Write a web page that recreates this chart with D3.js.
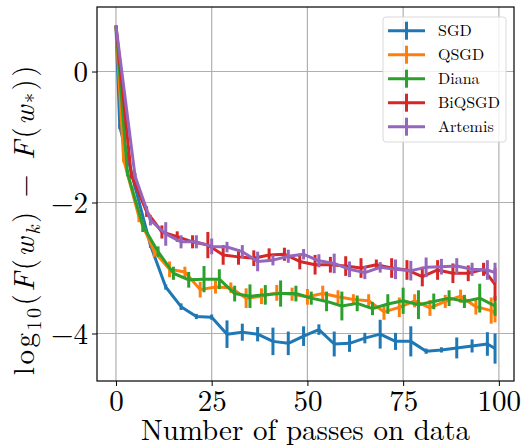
<!DOCTYPE html>
<html><head><meta charset="utf-8">
<script src="https://cdn.jsdelivr.net/npm/d3@7"></script>
<style>body{margin:0;background:#fff}</style>
</head><body>
<svg id="c" width="523" height="447"></svg>
<script>
const seriesNames = ["SGD","QSGD","Diana","BiQSGD","Artemis"];
const seriesColors = ["#1f77b4","#ff7f0e","#2ca02c","#d62728","#9467bd"];
const xTicks = [0,25,50,75,100];
const yTicks = [0,-2,-4];

const sgdX = [0,1,5,9,13,17,21,25,29,33,37,41,45,49,53,57,61,65,69,73,77,81,85,89,93,97,99];
const sgdY = [0.70,-0.84,-1.76,-2.65,-3.29,-3.59,-3.74,-3.75,-4.01,-3.98,-4.01,-4.12,-4.15,-4.04,-3.94,-4.16,-4.15,-4.07,-4.01,-4.12,-4.12,-4.27,-4.25,-4.22,-4.19,-4.16,-4.23];
const sgdE = [0,0.02,0.03,0.03,0.03,0.05,0.03,0.03,0.21,0.13,0.11,0.21,0.18,0.15,0.08,0.19,0.13,0.08,0.22,0.13,0.23,0.03,0.04,0.16,0.10,0.18,0.23];

const qsgdX = [0,2,6,10,14,18,22,26,30,34,38,42,46,50,54,58,62,66,70,74,78,82,86,90,94,98,99];
const qsgdY = [0.70,-1.34,-2.22,-2.75,-3.02,-3.06,-3.33,-3.29,-3.30,-3.46,-3.43,-3.38,-3.40,-3.44,-3.39,-3.44,-3.48,-3.50,-3.67,-3.60,-3.50,-3.61,-3.51,-3.43,-3.59,-3.65,-3.68];
const qsgdE = [0,0.05,0.08,0.08,0.12,0.08,0.12,0.10,0.08,0.15,0.12,0.12,0.10,0.12,0.12,0.10,0.08,0.10,0.12,0.15,0.10,0.12,0.10,0.10,0.12,0.20,0.15];

const dianaX = [0,3,7,11,15,19,23,27,31,35,39,43,47,51,55,59,63,67,71,75,79,83,87,91,95,99];
const dianaY = [0.70,-1.55,-2.35,-2.75,-3.08,-3.18,-3.17,-3.17,-3.39,-3.43,-3.41,-3.39,-3.39,-3.46,-3.51,-3.58,-3.54,-3.62,-3.55,-3.50,-3.56,-3.51,-3.46,-3.51,-3.46,-3.58];
const dianaE = [0,0.05,0.10,0.08,0.10,0.12,0.20,0.15,0.12,0.18,0.15,0.20,0.12,0.10,0.15,0.22,0.12,0.10,0.15,0.20,0.22,0.12,0.12,0.10,0.22,0.15];

const biqX = [0,4,8,12,16,20,24,28,32,36,40,44,48,52,56,60,64,68,72,76,80,84,88,92,96,99];
const biqY = [0.70,-1.58,-2.14,-2.45,-2.52,-2.60,-2.65,-2.80,-2.83,-2.85,-2.80,-2.79,-2.90,-2.95,-2.95,-2.97,-3.00,-2.95,-3.00,-3.03,-3.13,-3.03,-3.08,-3.08,-3.02,-3.25];
const biqE = [0,0.05,0.08,0.10,0.08,0.10,0.20,0.15,0.12,0.12,0.10,0.10,0.12,0.15,0.12,0.15,0.15,0.08,0.15,0.15,0.15,0.15,0.15,0.12,0.10,0.25];

const artX = [0,5,9,13,17,21,25,29,33,37,41,45,49,53,57,61,65,69,73,77,81,85,89,93,97,99];
const artY = [0.70,-1.60,-2.27,-2.48,-2.60,-2.60,-2.67,-2.68,-2.75,-2.90,-2.88,-2.82,-2.79,-2.89,-2.93,-3.02,-3.07,-2.99,-3.02,-3.04,-2.99,-2.98,-2.97,-3.02,-3.03,-3.07];
const artE = [0,0.05,0.08,0.18,0.10,0.10,0.12,0.08,0.10,0.15,0.08,0.10,0.08,0.10,0.15,0.12,0.10,0.08,0.15,0.15,0.15,0.12,0.12,0.10,0.15,0.15];

const allX = [sgdX,qsgdX,dianaX,biqX,artX];
const allY = [sgdY,qsgdY,dianaY,biqY,artY];
const allE = [sgdE,qsgdE,dianaE,biqE,artE];

const L=97,R=514,T=7,B=381;
const serif = "'Latin Modern Roman','CMU Serif','Liberation Serif','DejaVu Serif',serif";
const svg = d3.select("#c");
const x = d3.scaleLinear().domain([-4.95,103.95]).range([L,R]);
const y = d3.scaleLinear().domain([-4.725,0.985]).range([B,T]);

// grid
const g = svg.append("g");
g.selectAll(".gx").data(xTicks).enter().append("line")
 .attr("x1",d=>x(d)).attr("x2",d=>x(d)).attr("y1",T).attr("y2",B)
 .attr("stroke","#b0b0b0").attr("stroke-width",1.2);
g.selectAll(".gy").data(yTicks).enter().append("line")
 .attr("y1",d=>y(d)).attr("y2",d=>y(d)).attr("x1",L).attr("x2",R)
 .attr("stroke","#b0b0b0").attr("stroke-width",1.2);

// series
const line = d3.line().x(d=>x(d[0])).y(d=>y(d[1]));
seriesNames.forEach((n,i)=>{
  const pts = allX[i].map((xx,j)=>[xx,allY[i][j],allE[i][j]]);
  const sg = svg.append("g");
  sg.append("path").attr("d",line(pts)).attr("fill","none")
    .attr("stroke",seriesColors[i]).attr("stroke-width",3).attr("stroke-linejoin","round");
  sg.selectAll("line").data(pts.filter(p=>p[0]>0)).enter().append("line")
    .attr("x1",p=>x(p[0])).attr("x2",p=>x(p[0]))
    .attr("y1",p=>y(p[1]+Math.max(p[2],0.04))).attr("y2",p=>y(p[1]-Math.max(p[2],0.04)))
    .attr("stroke",seriesColors[i]).attr("stroke-width",3);
});

// axes
const xa = svg.append("g").attr("transform",`translate(0,${B})`)
  .call(d3.axisBottom(x).tickValues(xTicks).tickSize(5).tickPadding(4).tickFormat(d3.format("d")));
const ya = svg.append("g").attr("transform",`translate(${L},0)`)
  .call(d3.axisLeft(y).tickValues(yTicks).tickSize(5).tickPadding(4).tickFormat(d=>d<0?"\u2212"+Math.abs(d):d));
[xa,ya].forEach(a=>{
  a.select(".domain").remove();
  a.selectAll(".tick line").attr("stroke","#000").attr("stroke-width",1);
  a.selectAll(".tick text").attr("font-family",serif).attr("font-size",29).attr("fill","#000");
});
xa.selectAll(".tick text").attr("dy","0.71em");
ya.selectAll(".tick text").attr("dy","0.36em");

svg.append("rect").attr("x",L).attr("y",T).attr("width",R-L).attr("height",B-T)
  .attr("fill","none").attr("stroke","#000").attr("stroke-width",1.2);

// axis labels
svg.append("text").attr("x",(L+R)/2).attr("y",440).attr("text-anchor","middle")
  .attr("font-family",serif).attr("font-size",29).text("Number of passes on data");

const yl = svg.append("text").attr("transform","translate(34,219) rotate(-90)")
  .attr("text-anchor","middle").attr("font-family",serif).attr("font-size",29)
  .attr("letter-spacing",2.5);
yl.append("tspan").text("log");
yl.append("tspan").attr("font-size",20).attr("dy",7).text("10");
yl.append("tspan").attr("dy",-7).text("(");
yl.append("tspan").attr("font-style","italic").text("F");
yl.append("tspan").text("(");
yl.append("tspan").attr("font-style","italic").text("w");
yl.append("tspan").attr("font-size",20).attr("font-style","italic").attr("dy",6).text("k");
yl.append("tspan").attr("dy",-6).text(") \u2212 ");
yl.append("tspan").attr("font-style","italic").text("F");
yl.append("tspan").text("(");
yl.append("tspan").attr("font-style","italic").text("w");
yl.append("tspan").attr("font-size",20).attr("dy",6).text("*");
yl.append("tspan").attr("dy",-6).text("))");

// legend
const lg = svg.append("g");
lg.append("rect").attr("x",383).attr("y",17).attr("width",123).attr("height",125).attr("rx",3)
  .attr("fill","#fff").attr("fill-opacity",0.8).attr("stroke","#d9d9d9").attr("stroke-width",1);
seriesNames.forEach((n,i)=>{
  const yy = 30.7 + i*24;
  lg.append("line").attr("x1",388).attr("x2",425).attr("y1",yy).attr("y2",yy)
    .attr("stroke",seriesColors[i]).attr("stroke-width",3);
  lg.append("line").attr("x1",406.5).attr("x2",406.5).attr("y1",yy-9).attr("y2",yy+9)
    .attr("stroke",seriesColors[i]).attr("stroke-width",3);
  lg.append("text").attr("x",438).attr("y",yy).attr("dy","0.35em")
    .attr("font-family",serif).attr("font-size",16).text(n);
});
</script>
</body></html>
